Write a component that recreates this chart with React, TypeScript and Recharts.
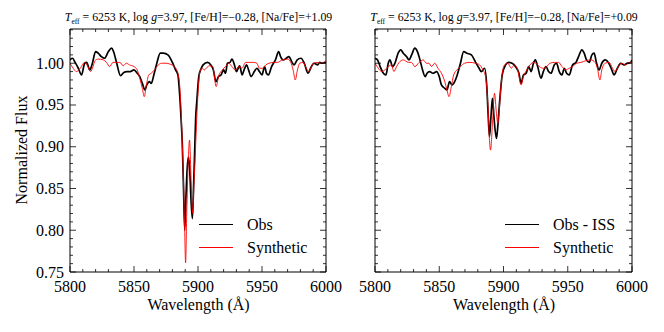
import React from 'react';
import { LineChart, Line, XAxis, YAxis, Legend } from 'recharts';

const SERIF = '"Liberation Serif", "DejaVu Serif", serif';

// [wavelength (Å), normalized flux]
const OBS_LEFT: [number, number][] = [
  [5800, 1.004], [5802, 1.006], [5804, 1.001], [5806.5, 0.994], [5809, 0.986], [5811.5, 1.0], [5813, 1.001],
  [5815.5, 0.992], [5817.5, 1.0], [5820, 1.014], [5822, 1.012], [5824.5, 1.008], [5827, 1.006], [5830, 1.014],
  [5832.5, 1.018], [5834, 1.014], [5836.5, 1.0], [5839.5, 0.985], [5842, 0.989], [5844.5, 0.99], [5847, 0.99],
  [5850, 0.992], [5852.5, 0.988], [5854.5, 0.984], [5856.5, 0.976], [5858.5, 0.968], [5860, 0.974], [5862, 0.978],
  [5863.5, 0.976], [5865.5, 0.986], [5868, 1.001], [5870.5, 1.012], [5873, 1.012], [5876.5, 1.01], [5880, 1.001],
  [5882.5, 0.992], [5884.3, 0.986], [5885.6, 0.964], [5886.9, 0.93], [5887.7, 0.905], [5888.7, 0.85], [5889.6, 0.8],
  [5890.6, 0.84], [5891.6, 0.875], [5892.6, 0.888], [5893.6, 0.87], [5894.6, 0.835], [5895.6, 0.814], [5896.6, 0.855],
  [5897.5, 0.9], [5898.2, 0.935], [5899.1, 0.955], [5900.6, 0.984], [5902, 0.992], [5904, 0.998], [5907.5, 1.001],
  [5910, 0.998], [5912, 0.992], [5914, 0.978], [5916, 0.984], [5918, 0.986], [5920, 0.992], [5921.5, 0.988],
  [5923, 1.0], [5925, 1.001], [5926.5, 1.005], [5928.5, 0.998], [5930, 0.99], [5932.5, 0.997], [5934.5, 0.986],
  [5936, 0.992], [5938, 0.998], [5939.5, 0.992], [5941.5, 0.984], [5944, 0.99], [5946, 0.994], [5948, 0.99],
  [5950, 0.986], [5952, 0.996], [5953.5, 0.988], [5955, 0.986], [5957.5, 0.996], [5960.5, 1.004], [5963, 1.014],
  [5964.5, 1.008], [5966.5, 1.004], [5969, 1.006], [5971, 1.008], [5973.5, 1.001], [5975, 0.998], [5977.5, 1.004],
  [5980.5, 1.006], [5983, 1.0], [5986, 0.988], [5988, 0.994], [5990.5, 1.0], [5993.5, 0.998], [5995, 1.001],
  [5997, 1.0], [6000, 1.001],
];

const SYN_LEFT: [number, number][] = [
  [5800, 1.0], [5802.5, 0.994], [5805, 0.99], [5808, 0.994], [5811.5, 1.001], [5814, 0.996], [5816, 0.99],
  [5818, 0.996], [5819.5, 1.003], [5822, 1.005], [5826, 1.004], [5828.5, 1.001], [5831, 0.996], [5833.5, 1.001],
  [5836.5, 1.001], [5839, 1.001], [5841.5, 0.997], [5844, 1.0], [5846.5, 0.998], [5850, 0.996], [5852.5, 0.992],
  [5854.5, 0.982], [5856.5, 0.97], [5858, 0.96], [5859.5, 0.972], [5861.5, 0.986], [5863.5, 0.988], [5866, 0.992],
  [5869, 0.998], [5871.5, 1.0], [5875, 1.0], [5878, 0.999], [5881.5, 0.996], [5884.3, 0.988], [5886.2, 0.962],
  [5887.7, 0.905], [5888.8, 0.85], [5889.6, 0.8], [5890.3, 0.761], [5891.2, 0.82], [5892.3, 0.88], [5893.4, 0.908],
  [5894.4, 0.87], [5895.3, 0.83], [5895.9, 0.82], [5896.8, 0.855], [5897.6, 0.88], [5898.5, 0.915], [5899.5, 0.95],
  [5900.5, 0.975], [5901.5, 0.99], [5903.3, 0.994], [5905, 0.992], [5907, 0.995], [5909, 0.997], [5911.5, 0.996],
  [5914.2, 0.972], [5916, 0.984], [5919, 0.992], [5921.5, 0.996], [5924, 1.0], [5926.5, 0.996], [5929, 0.992],
  [5932, 0.996], [5934.5, 0.994], [5937, 1.001], [5940, 1.001], [5943.5, 1.001], [5946, 1.0], [5948, 0.994],
  [5950.5, 0.994], [5953, 0.998], [5955.5, 1.0], [5959, 1.001], [5962, 1.001], [5966, 1.004], [5970, 1.005],
  [5972.5, 1.001], [5974.3, 0.992], [5976, 0.98], [5977.7, 0.992], [5979.5, 1.0], [5982, 1.001], [5985, 0.993],
  [5986.5, 0.99], [5988, 0.994], [5990.5, 1.0], [5993, 1.001], [5996, 1.0], [6000, 1.003],
];

const OBS_ISS_RIGHT: [number, number][] = [
  [5800, 1.006], [5802, 1.004], [5804, 0.996], [5806.5, 0.988], [5808.5, 0.986], [5810.3, 1.0], [5811.6, 1.004],
  [5813.7, 0.996], [5815.5, 1.0], [5818, 1.012], [5820, 1.016], [5822, 1.012], [5824.5, 1.008], [5826.5, 1.004],
  [5828.5, 1.01], [5831, 1.018], [5833, 1.014], [5835, 1.004], [5837, 0.992], [5839, 0.984], [5840.5, 0.988],
  [5842.5, 0.99], [5845, 0.988], [5848, 0.99], [5850, 0.984], [5851.7, 0.974], [5854.3, 0.97], [5856, 0.968],
  [5858, 0.978], [5860, 0.974], [5862, 0.978], [5864, 0.986], [5866.5, 1.0], [5869, 1.014], [5871.5, 1.012],
  [5875, 1.01], [5878.3, 1.001], [5881, 0.994], [5882.7, 0.99], [5885.3, 0.994], [5887, 0.972], [5888, 0.94],
  [5889.1, 0.912], [5890.2, 0.935], [5891.4, 0.958], [5892.6, 0.935], [5894.5, 0.91], [5895.6, 0.925],
  [5896.9, 0.952], [5898, 0.972], [5899, 0.986], [5901.6, 0.998], [5904, 1.001], [5906.7, 1.0], [5909.3, 0.996],
  [5912, 0.988], [5913.7, 0.976], [5915.5, 0.986], [5917.6, 0.988], [5919.6, 0.996], [5921.5, 0.99], [5923.3, 1.0],
  [5924.8, 1.004], [5926.6, 0.996], [5929.2, 0.982], [5931, 0.99], [5933.1, 0.996], [5935.1, 0.99], [5937, 0.988],
  [5939.5, 0.998], [5941.3, 1.0], [5943.4, 0.99], [5945.5, 0.986], [5947.3, 0.994], [5949.1, 0.988], [5951.2, 0.986],
  [5953.7, 0.998], [5956.4, 1.001], [5958.4, 1.008], [5961, 1.016], [5962.8, 1.012], [5964.6, 1.004], [5966.7, 1.001],
  [5968.8, 1.01], [5970.5, 1.012], [5972.3, 1.001], [5974.4, 0.992], [5976.5, 1.0], [5979.1, 1.004], [5981.6, 1.001],
  [5984.3, 0.992], [5986, 0.986], [5988.6, 0.994], [5991.2, 1.0], [5993.8, 0.998], [5996.4, 1.0], [5999, 1.001],
  [6000, 1.004],
];

const SYN_RIGHT: [number, number][] = [
  [5800, 1.0], [5802.6, 0.994], [5805.2, 0.99], [5807.7, 0.992], [5810.3, 0.996], [5812.9, 0.998], [5814.7, 0.99],
  [5816.8, 0.996], [5818.8, 1.001], [5822, 1.004], [5826, 1.001], [5828.4, 1.001], [5831, 0.996], [5834.4, 1.001],
  [5837.5, 1.004], [5840, 1.0], [5842, 1.0], [5844, 0.996], [5846.5, 1.0], [5849, 0.994], [5851.7, 0.988],
  [5854.3, 0.978], [5856, 0.968], [5857.6, 0.96], [5859.4, 0.972], [5861.2, 0.986], [5863.8, 0.992], [5866.4, 0.996],
  [5869.7, 1.0], [5873.6, 1.001], [5878.3, 1.0], [5881.4, 0.998], [5884, 0.992], [5886, 0.984], [5887.8, 0.952],
  [5889, 0.91], [5889.9, 0.896], [5891.5, 0.93], [5893, 0.964], [5894.5, 0.94], [5895.6, 0.928], [5897, 0.95],
  [5898.2, 0.976], [5900.8, 0.998], [5903.4, 1.0], [5906, 0.994], [5908.5, 0.998], [5911.1, 0.992], [5913.7, 0.974],
  [5915.5, 0.984], [5918.1, 0.992], [5920.7, 0.998], [5922.7, 1.001], [5925.4, 1.0], [5927.9, 0.996], [5931, 0.994],
  [5933.6, 0.996], [5936.2, 1.0], [5939.5, 1.001], [5942.9, 1.001], [5945.5, 0.996], [5948.1, 0.992], [5951.2, 0.994],
  [5953.7, 0.996], [5956.8, 1.0], [5960.2, 1.001], [5964.1, 1.003], [5968, 1.004], [5971.3, 1.001], [5973.1, 0.994],
  [5975, 0.98], [5976.5, 0.992], [5979.1, 1.0], [5982.2, 1.001], [5984.8, 0.994], [5986.8, 0.99], [5989.4, 0.996],
  [5992, 1.0], [5995.1, 0.998], [5998.2, 1.001], [6000, 1.001],
];

const X_TICKS = [5800, 5810, 5820, 5830, 5840, 5850, 5860, 5870, 5880, 5890, 5900, 5910, 5920, 5930, 5940, 5950,
  5960, 5970, 5980, 5990, 6000];
const Y_TICKS = [0.75, 0.76, 0.77, 0.78, 0.79, 0.8, 0.81, 0.82, 0.83, 0.84, 0.85, 0.86, 0.87, 0.88, 0.89, 0.9,
  0.91, 0.92, 0.93, 0.94, 0.95, 0.96, 0.97, 0.98, 0.99, 1.0, 1.01, 1.02, 1.03, 1.04];

const toRows = (pts: [number, number][]) => pts.map(([w, f]) => ({ w, f }));

const isMajorX = (v: number) => Math.round(v) % 50 === 0;
const isMajorY = (v: number) => Math.round(v * 100) % 5 === 0;

const BottomTick = ({ x, y, payload }: any) => {
  const major = isMajorX(payload.value);
  return (
    <g>
      <line x1={x} y1={y} x2={x} y2={y - (major ? 6 : 3)} stroke="#000" strokeWidth={0.8} />
      {major && (
        <text x={x} y={y + 20} textAnchor="middle" fontSize={16} fontFamily={SERIF} fill="#000">
          {payload.value}
        </text>
      )}
    </g>
  );
};

const TopTick = ({ x, y, payload }: any) => {
  const major = isMajorX(payload.value);
  return <line x1={x} y1={y} x2={x} y2={y + (major ? 6 : 3)} stroke="#000" strokeWidth={0.8} />;
};

const makeLeftTick = (labels: boolean) => ({ x, y, payload }: any) => {
  const major = isMajorY(payload.value);
  return (
    <g>
      <line x1={x} y1={y} x2={x + (major ? 6 : 3)} y2={y} stroke="#000" strokeWidth={0.8} />
      {labels && major && (
        <text x={x - 6} y={y + 5.5} textAnchor="end" fontSize={16} fontFamily={SERIF} fill="#000">
          {payload.value.toFixed(2)}
        </text>
      )}
    </g>
  );
};

const RightTick = ({ x, y, payload }: any) => {
  const major = isMajorY(payload.value);
  return <line x1={x} y1={y} x2={x - (major ? 6 : 3)} y2={y} stroke="#000" strokeWidth={0.8} />;
};

const LegendBox = ({ obsLabel }: { obsLabel: string }) => (
  <div style={{ fontFamily: SERIF, fontSize: 16, color: '#000' }}>
    {[{ label: obsLabel, color: '#000', w: 1.8 }, { label: 'Synthetic', color: '#ff0000', w: 1 }].map((r) => (
      <div key={r.label} style={{ display: 'flex', alignItems: 'center', height: 23 }}>
        <span style={{ display: 'inline-block', width: 34, borderTop: `${r.w}px solid ${r.color}`, marginRight: 14 }} />
        <span>{r.label}</span>
      </div>
    ))}
  </div>
);

const axisLine = { stroke: '#000', strokeWidth: 1 };

// plot box: top 29, bottom 272 (axes take 1px each)
const Panel = ({ obs, syn, obsLabel, labels, left, width, plotLeft, plotRight, legendLeft, naFe }: any) => {
  const margin = { top: 28, bottom: 59, left: plotLeft - 1, right: width - plotRight };
  const plotW = plotRight - plotLeft;
  return (
    <div style={{ position: 'absolute', left, top: 0, width, height: 332 }}>
      <LineChart width={width} height={332} margin={margin}>
        <XAxis xAxisId="b" type="number" dataKey="w" domain={[5800, 6000]} ticks={X_TICKS} interval={0}
          height={1} tickSize={0} tickMargin={0} tickLine={false} axisLine={axisLine} tick={BottomTick}
          allowDataOverflow />
        <XAxis xAxisId="t" orientation="top" type="number" dataKey="w" domain={[5800, 6000]} ticks={X_TICKS}
          interval={0} height={1} tickSize={0} tickMargin={0} tickLine={false} axisLine={axisLine} tick={TopTick}
          allowDataOverflow />
        <YAxis yAxisId="l" type="number" domain={[0.75, 1.041]} ticks={Y_TICKS} interval={0} width={1}
          tickSize={0} tickMargin={0} tickLine={false} axisLine={axisLine} tick={makeLeftTick(labels)}
          allowDataOverflow />
        <YAxis yAxisId="r" orientation="right" type="number" domain={[0.75, 1.041]} ticks={Y_TICKS} interval={0}
          width={1} tickSize={0} tickMargin={0} tickLine={false} axisLine={axisLine} tick={RightTick}
          allowDataOverflow />
        <Line xAxisId="b" yAxisId="l" data={toRows(obs)} dataKey="f" type="monotone" stroke="#000"
          strokeWidth={1.7} dot={false} isAnimationActive={false} />
        <Line xAxisId="b" yAxisId="l" data={toRows(syn)} dataKey="f" type="monotone" stroke="#ff0000"
          strokeWidth={0.9} dot={false} isAnimationActive={false} />
        <Legend layout="vertical" align="center" verticalAlign="middle"
          content={() => <LegendBox obsLabel={obsLabel} />}
          wrapperStyle={{ position: 'absolute', left: legendLeft, top: 213, width: 140 }} />
      </LineChart>
      <div style={{ position: 'absolute', left: plotLeft - 30, width: plotW + 60, top: 10, textAlign: 'center',
        fontFamily: SERIF, fontSize: 11.8, color: '#000', whiteSpace: 'nowrap' }}>
        <i>T</i><sub style={{ fontSize: 7.5 }}>eff</sub> = 6253 K, log <i>g</i>=3.97, [Fe/H]=−0.28, [Na/Fe]={naFe}
      </div>
      <div style={{ position: 'absolute', left: plotLeft, width: plotW, top: 296, textAlign: 'center',
        fontFamily: SERIF, fontSize: 16, color: '#000' }}>
        Wavelength (Å)
      </div>
    </div>
  );
};

export default function App() {
  return (
    <div style={{ position: 'absolute', left: 0, top: 0, width: 664, height: 332, background: '#fff' }}>
      <Panel obs={OBS_LEFT} syn={SYN_LEFT} obsLabel="Obs" labels left={0} width={352}
        plotLeft={70} plotRight={327} legendLeft={199} naFe="+1.09" />
      <Panel obs={OBS_ISS_RIGHT} syn={SYN_RIGHT} obsLabel="Obs - ISS" labels={false} left={340} width={324}
        plotLeft={35} plotRight={293} legendLeft={165} naFe="+0.09" />
      <div style={{ position: 'absolute', left: 21.5, top: 150, transform: 'translate(-50%, -50%) rotate(-90deg)',
        fontFamily: SERIF, fontSize: 16, color: '#000', whiteSpace: 'nowrap' }}>
        Normalized Flux
      </div>
    </div>
  );
}
